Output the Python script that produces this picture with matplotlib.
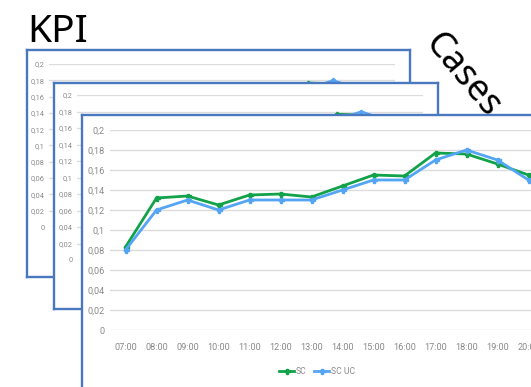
import matplotlib
matplotlib.use("Agg")
import matplotlib.pyplot as plt
from matplotlib import font_manager
from matplotlib.lines import Line2D

# ---- data ----
hours = ["07:00", "08:00", "09:00", "10:00", "11:00", "12:00", "13:00",
         "14:00", "15:00", "16:00", "17:00", "18:00", "19:00", "20:00"]
sc = [0.083, 0.132, 0.134, 0.125, 0.135, 0.136, 0.133,
      0.144, 0.155, 0.154, 0.177, 0.176, 0.166, 0.155]
sc_uc = [0.080, 0.120, 0.130, 0.120, 0.130, 0.130, 0.130,
         0.140, 0.150, 0.150, 0.170, 0.180, 0.170, 0.150]
y_ticks = [0, 0.02, 0.04, 0.06, 0.08, 0.10, 0.12, 0.14, 0.16, 0.18, 0.20]
y_tick_labels = ["0", "0,02", "0,04", "0,06", "0,08", "0,1", "0,12",
                 "0,14", "0,16", "0,18", "0,2"]
series_names = ["SC", "SC UC"]
title_text = "KPI"
side_text = "Cases"

# ---- fonts ----
def pick(names):
    for n in names:
        try:
            font_manager.findfont(n, fallback_to_default=False)
            return n
        except Exception:
            pass
    return "DejaVu Sans"

narrow = pick(["Liberation Sans Narrow", "Roboto", "DejaVu Sans"])
big = pick(["Noto Sans", "Open Sans", "DejaVu Sans"])

W, H = 531, 387
fig = plt.figure(figsize=(W / 100, H / 100), dpi=100)
fig.patch.set_facecolor("white")

def rect(x0, y0, x1, y1):
    return [x0 / W, 1 - y1 / H, (x1 - x0) / W, (y1 - y0) / H]

GREEN = "#12A24A"
BLUE = "#55A5F5"
FRAME = "#4A78BE"
TICKC = "#8a8a8a"
GRID = "#dcdcdc"

def panel(frame, plot, scale, front):
    axf = fig.add_axes(rect(*frame))
    axf.set_facecolor("white")
    axf.set_xticks([]); axf.set_yticks([])
    for s in axf.spines.values():
        s.set_color(FRAME); s.set_linewidth(1.7)
    ax = fig.add_axes(rect(*plot))
    ax.set_facecolor("none")
    x = list(range(len(hours)))
    ax.plot(x, sc, color=GREEN, lw=2.0 * scale, marker="P", ms=3.6 * scale,
            clip_on=False, zorder=3)
    ax.plot(x, sc_uc, color=BLUE, lw=2.0 * scale, marker="P", ms=3.6 * scale,
            clip_on=False, zorder=3)
    ax.set_xlim(-0.5, len(hours) - 0.5)
    ax.set_ylim(0, 0.2)
    ax.set_yticks(y_ticks)
    ax.set_yticklabels(y_tick_labels)
    ax.set_xticks(x)
    if front:
        ax.set_xticklabels(hours)
    else:
        # category labels of the back panels are hidden under the next panel
        ax.set_xticklabels([])
    ax.tick_params(axis="both", length=0, colors=TICKC, labelsize=6.6 * scale)
    ax.tick_params(axis="x", pad=9 * scale)
    ax.tick_params(axis="y", pad=4 * scale)
    for lab in ax.get_xticklabels() + ax.get_yticklabels():
        lab.set_fontfamily(narrow)
    ax.grid(axis="y", color=GRID, lw=1.0)
    ax.set_axisbelow(True)
    for s in ax.spines.values():
        s.set_visible(False)
    if front:
        handles = [Line2D([], [], color=GREEN, lw=2.0, marker="P", ms=3.6),
                   Line2D([], [], color=BLUE, lw=2.0, marker="P", ms=3.6)]
        leg = ax.legend(handles, series_names, loc="center",
                        bbox_to_anchor=(317 / W, 1 - 372 / H),
                        bbox_transform=fig.transFigure, ncol=2, frameon=False,
                        handlelength=1.8, handletextpad=0.2, columnspacing=0.8,
                        prop={"family": narrow, "size": 6.2})
        for t in leg.get_texts():
            t.set_color(TICKC)
    return ax

# back panel, middle panel, front panel
panel((27, 50, 410, 277), (49, 64, 395, 227), 0.8, False)
panel((54, 83, 438, 309), (77, 95, 423, 260), 0.81, False)
panel((82, 115, 560, 410), (110, 130, 544, 330), 1.0, True)

fig.text(27 / W, 1 - 42 / H, title_text, fontsize=28, family=big,
         fontweight="normal", color="black", ha="left", va="baseline")
fig.text(462 / W, 1 - 76 / H, side_text, fontsize=26, family=big,
         fontweight="normal", color="black", ha="center", va="center",
         rotation=-50, rotation_mode="anchor")

fig.savefig("out.png", dpi=100, facecolor="white")
